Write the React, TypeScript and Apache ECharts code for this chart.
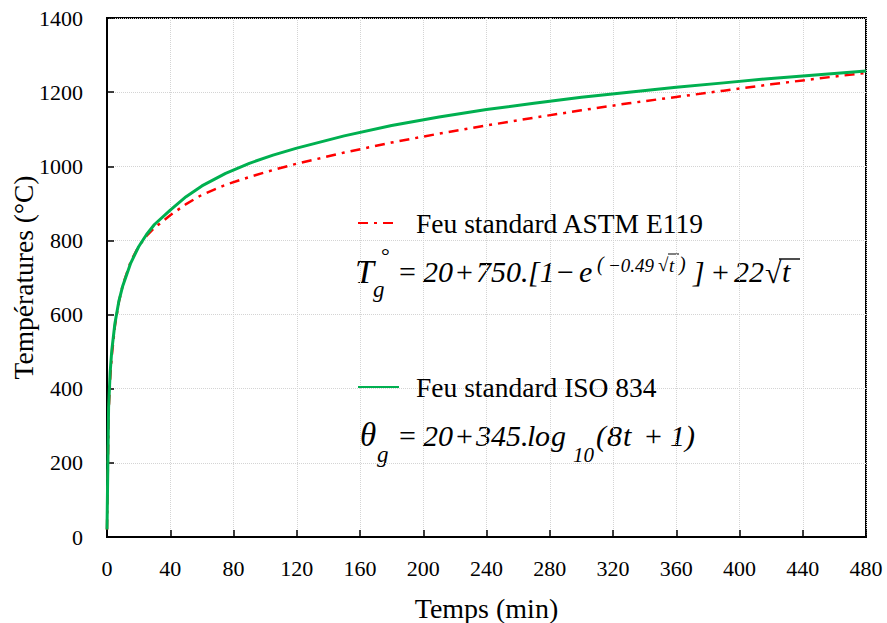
import React, { useEffect, useRef } from "react";
import * as echarts from "echarts";

const timeMin = [0, 1, 2, 3, 5, 7.5, 10, 15, 20, 25, 30, 40, 50, 60, 75, 90, 105, 120, 150, 180, 210, 240, 270, 300, 330, 360, 390, 420, 450, 480];
const iso834 = [20, 349, 444, 502, 576, 636, 678, 739, 783, 816, 843, 882, 918, 947, 981, 1008, 1030, 1049, 1082, 1110, 1133, 1153, 1170, 1186, 1200, 1213, 1225, 1237, 1247, 1257];
const astmE119 = [20, 333, 426, 487, 569, 634, 680, 743, 784, 812, 834, 868, 898, 923, 950, 971, 990, 1007, 1037, 1064, 1088, 1110, 1131, 1151, 1170, 1187, 1204, 1221, 1237, 1252];
const xTicks = [0, 40, 80, 120, 160, 200, 240, 280, 320, 360, 400, 440, 480];
const yTicks = [0, 200, 400, 600, 800, 1000, 1200, 1400];
const seriesNames = ["Feu standard ASTM E119", "Feu standard ISO 834"];

const FONT = "Liberation Serif";

function txt(text: string, x: number, y: number, size: number, italic = true) {
  return {
    type: "text",
    x,
    y,
    silent: true,
    style: {
      text,
      fill: "#000",
      fontFamily: FONT,
      fontSize: size,
      fontStyle: italic ? "italic" : "normal",
      textAlign: "left",
      verticalAlign: "middle",
    },
  };
}

function bar(x1: number, x2: number, y: number, w = 1.2) {
  return {
    type: "line",
    silent: true,
    shape: { x1, y1: y, x2, y2: y },
    style: { stroke: "#000", lineWidth: w },
  };
}

export default function App() {
  const ref = useRef<HTMLDivElement>(null);
  useEffect(() => {
    if (!ref.current) return;
    const chart = echarts.init(ref.current, undefined, { renderer: "svg" });
    const y1 = 271;
    const y2 = 435;
    const F = 30;
    chart.setOption({
      animation: false,
      backgroundColor: "#fff",
      textStyle: { fontFamily: FONT },
      grid: {
        left: 107,
        right: 21,
        top: 18,
        bottom: 86,
        show: true,
        borderColor: "#000",
        borderWidth: 2,
        containLabel: false,
        outerBoundsMode: "none",
      },
      legend: [
        {
          data: [seriesNames[0]],
          left: 357,
          top: 208,
          padding: 0,
          itemWidth: 36,
          itemHeight: 14,
          selectedMode: false,
          itemStyle: { opacity: 0 },
          textStyle: { fontFamily: FONT, fontSize: 27.5, color: "#000", padding: [0, 0, 0, 17], lineHeight: 30 },
        },
        {
          data: [seriesNames[1]],
          left: 357,
          top: 372,
          padding: 0,
          itemWidth: 41,
          itemHeight: 14,
          selectedMode: false,
          itemStyle: { opacity: 0 },
          textStyle: { fontFamily: FONT, fontSize: 27.5, color: "#000", padding: [0, 0, 0, 12], lineHeight: 30 },
        },
      ],
      xAxis: {
        type: "value",
        min: 0,
        max: 480,
        interval: 40,
        name: "Temps (min)",
        nameLocation: "middle",
        nameGap: 57,
        nameMoveOverlap: false,
        nameTextStyle: { fontFamily: FONT, fontSize: 28, color: "#000" },
        axisLine: { show: true, lineStyle: { color: "#000", width: 2 } },
        axisTick: { show: true, inside: true, length: 7, lineStyle: { color: "#000", width: 1.5 } },
        axisLabel: {
          fontFamily: FONT,
          fontSize: 22,
          color: "#000",
          margin: 20,
          formatter: (v: number) => (xTicks.includes(v) ? String(v) : ""),
        },
        splitLine: { show: true, lineStyle: { color: "#d4d4d4", width: 1, type: "dotted" } },
      },
      yAxis: {
        type: "value",
        min: 0,
        max: 1400,
        interval: 200,
        name: "Températures (°C)",
        nameLocation: "middle",
        nameGap: 70,
        nameMoveOverlap: false,
        nameTextStyle: { fontFamily: FONT, fontSize: 27.5, color: "#000" },
        axisLine: { show: true, lineStyle: { color: "#000", width: 2 } },
        axisTick: { show: true, inside: true, length: 7, lineStyle: { color: "#000", width: 1.5 } },
        axisLabel: {
          fontFamily: FONT,
          fontSize: 22,
          color: "#000",
          margin: 24,
          formatter: (v: number) => (yTicks.includes(v) ? String(v) : ""),
        },
        splitLine: { show: true, lineStyle: { color: "#d4d4d4", width: 1, type: "dotted" } },
      },
      series: [
        {
          name: seriesNames[0],
          type: "line",
          data: timeMin.map((t, i) => [t, astmE119[i]]),
          showSymbol: false,
          symbol: "none",
          lineStyle: { color: "#FF0000", width: 2.5, type: [10, 6, 3, 6] },
          itemStyle: { color: "#FF0000" },
          z: 3,
        },
        {
          name: seriesNames[1],
          type: "line",
          data: timeMin.map((t, i) => [t, iso834[i]]),
          showSymbol: false,
          symbol: "none",
          lineStyle: { color: "#00B050", width: 3 },
          itemStyle: { color: "#00B050" },
          z: 4,
        },
      ],
      graphic: [
        // ASTM E119 formula
        txt("T", 355, y1, 34),
        txt("°", 381, 255, 22, false),
        txt("g", 373, 289, 23),
        txt("=", 399, y1, F, false),
        txt("20", 423, y1, F),
        txt("+", 456, y1, F, false),
        txt("750.", 476, y1, F),
        txt("[1", 528, y1, F),
        txt("−", 557, y1, F, false),
        txt("e", 579, y1, F),
        txt("(", 597, 264, 20),
        txt("−0.49", 608, 265, 19),
        txt("√", 658, 264, 19, false),
        txt("t", 669, 265, 19),
        bar(668, 679, 254, 1),
        txt(")", 679, 264, 20),
        txt("]", 693, y1, F),
        txt("+", 712, y1, F, false),
        txt("22", 734, y1, F),
        txt("√", 765, y1 + 1, F, false),
        txt("t", 782, y1, F),
        bar(779, 800, 259, 1.4),
        // ISO 834 formula
        txt("θ", 360, y2, 33),
        txt("g", 377, 454, 23),
        txt("=", 399, y2, F, false),
        txt("20", 423, y2, F),
        txt("+", 456, y2, F, false),
        txt("345.", 476, y2, F),
        txt("l", 527, y2, F),
        txt("o", 535, y2, F),
        txt("g", 551, y2, F),
        txt("10", 573, 455, 21),
        txt("(", 596, y2, F),
        txt("8", 607, y2, F),
        txt("t", 623, y2, F),
        txt("+", 645, y2, F, false),
        txt("1)", 670, y2, F),
      ],
    });
    return () => chart.dispose();
  }, []);
  return <div ref={ref} style={{ position: "absolute", left: 0, top: 0, width: 887, height: 623 }} />;
}
